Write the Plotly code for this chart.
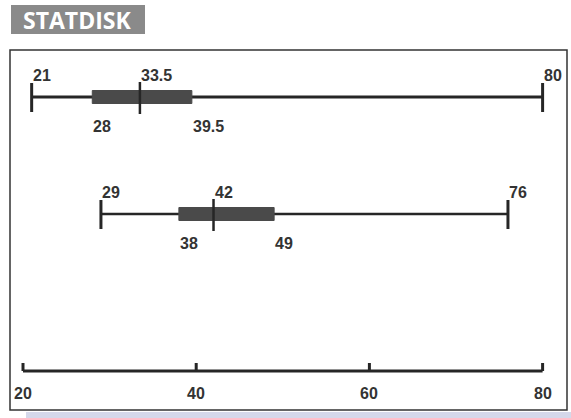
import plotly.graph_objects as go

# Five-number summaries (min, Q1, median, Q3, max)
summary_top = [21, 28, 33.5, 39.5, 80]
summary_bottom = [29, 38, 42, 49, 76]
summary_labels_top = ["21", "28", "33.5", "39.5", "80"]
summary_labels_bottom = ["29", "38", "42", "49", "76"]
axis_ticks = [20, 40, 60, 80]
axis_tick_labels = ["20", "40", "60", "80"]
title_text = "STATDISK"

W, H = 571, 418
PX_PER_UNIT = 8.66
X_AT_20 = 23.0
x0 = 20 - X_AT_20 / PX_PER_UNIT
x1 = x0 + W / PX_PER_UNIT

INK = "#262626"
BOXC = "#4a4a4a"
LABEL_FONT = dict(family="Liberation Sans Narrow, Liberation Sans, Arial, sans-serif",
                  size=16, color="#333333")

fig = go.Figure()


def add_boxplot(summary, labels, row, line_w):
    mn, q1, med, q3, mx = summary
    fig.add_trace(go.Scatter(x=[mn, mx], y=[row, row], mode="lines",
                             line=dict(color=INK, width=line_w), hoverinfo="skip"))
    fig.add_trace(go.Scatter(x=[q1, q3, q3, q1, q1],
                             y=[row - 6.5, row - 6.5, row + 6.5, row + 6.5, row - 6.5],
                             mode="lines", fill="toself", fillcolor=BOXC,
                             line=dict(color=BOXC, width=1), hoverinfo="skip"))
    for v in (mn, mx):
        fig.add_trace(go.Scatter(x=[v, v], y=[row - 14, row + 15], mode="lines",
                                 line=dict(color=INK, width=3), hoverinfo="skip"))
    fig.add_trace(go.Scatter(x=[med, med], y=[row - 15, row + 17], mode="lines",
                             line=dict(color=INK, width=2.5), hoverinfo="skip"))
    for v, t in ((mn, labels[0]), (med, labels[2]), (mx, labels[4])):
        fig.add_annotation(x=v, y=row - 22, text="<b>" + t + "</b>", showarrow=False,
                           xref="x", yref="y", xanchor="left", yanchor="middle",
                           xshift=-1, font=LABEL_FONT)
    for v, t in ((q1, labels[1]), (q3, labels[3])):
        fig.add_annotation(x=v, y=row + 29, text="<b>" + t + "</b>", showarrow=False,
                           xref="x", yref="y", xanchor="left", yanchor="middle",
                           xshift=-1, font=LABEL_FONT)


add_boxplot(summary_top, summary_labels_top, 97, 3)
add_boxplot(summary_bottom, summary_labels_bottom, 214, 2.5)

AXIS_Y = 371
fig.add_trace(go.Scatter(x=[axis_ticks[0], axis_ticks[-1]], y=[AXIS_Y, AXIS_Y], mode="lines",
                         line=dict(color=INK, width=3), hoverinfo="skip"))
for v, t in zip(axis_ticks, axis_tick_labels):
    fig.add_trace(go.Scatter(x=[v, v], y=[AXIS_Y - 8, AXIS_Y], mode="lines",
                             line=dict(color=INK, width=3), hoverinfo="skip"))
    fig.add_annotation(x=v, y=AXIS_Y + 22, text="<b>" + t + "</b>", showarrow=False,
                       xref="x", yref="y", xanchor="center", yanchor="middle",
                       font=LABEL_FONT)

shapes = [
    dict(type="rect", xref="paper", yref="y", x0=10 / W, x1=567 / W, y0=50, y1=410,
         line=dict(color="#333333", width=1.5), fillcolor="rgba(0,0,0,0)", layer="below"),
    dict(type="rect", xref="paper", yref="y", x0=26 / W, x1=1, y0=412, y1=418,
         line=dict(width=0), fillcolor="#d5d8ea", layer="below"),
    dict(type="rect", xref="paper", yref="y", x0=11 / W, x1=145 / W, y0=5, y1=34,
         line=dict(width=0), fillcolor="#8a8a8a", layer="below"),
]
fig.add_annotation(x=77 / W, y=20, xref="paper", yref="y", text="<b>" + title_text + "</b>",
                   showarrow=False, xanchor="center", yanchor="middle",
                   font=dict(family="Open Sans, Liberation Sans, sans-serif", size=23,
                             color="white"))

fig.update_layout(
    width=W, height=H, autosize=False,
    margin=dict(l=0, r=0, t=0, b=0),
    paper_bgcolor="white", plot_bgcolor="white",
    showlegend=False, shapes=shapes,
    xaxis=dict(range=[x0, x1], visible=False, fixedrange=True),
    yaxis=dict(range=[H, 0], visible=False, fixedrange=True),
)

fig.write_html("out.html", post_script="document.body.style.margin='0';",
               config={"displayModeBar": False})
